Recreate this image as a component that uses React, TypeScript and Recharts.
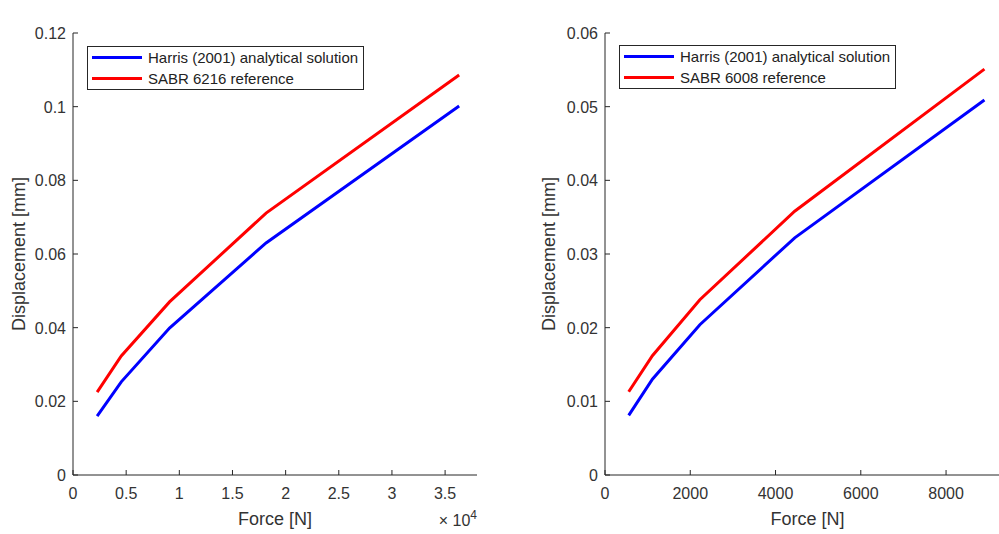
import React from "react";
import { LineChart, Line, XAxis, YAxis, Legend } from "recharts";

const FORCE_6216 = [2270, 4540, 9080, 18160, 36320];
const HARRIS_6216 = [0.016, 0.0253, 0.0399, 0.063, 0.1002];
const SABR_6216 = [0.0225, 0.0323, 0.047, 0.0711, 0.1086];

const FORCE_6008 = [556, 1112, 2225, 4450, 8900];
const HARRIS_6008 = [0.0081, 0.013, 0.0204, 0.0322, 0.0509];
const SABR_6008 = [0.0113, 0.0162, 0.0238, 0.0358, 0.0551];

const X_TICKS_6216 = [0, 5000, 10000, 15000, 20000, 25000, 30000, 35000];
const Y_TICKS_6216 = [0, 0.02, 0.04, 0.06, 0.08, 0.1, 0.12];
const X_TICKS_6008 = [0, 2000, 4000, 6000, 8000];
const Y_TICKS_6008 = [0, 0.01, 0.02, 0.03, 0.04, 0.05, 0.06];

const FONT = '"Liberation Sans", Arial, Helvetica, sans-serif';
const AX = "#262626";
const TXT = "#333333";

const build = (f: number[], h: number[], s: number[]) =>
  f.map((v, i) => ({ f: v, harris: h[i], sabr: s[i] }));

// MATLAB style: ticks point inwards, labels outside
const BottomTick = (fmt: (v: number) => string) => (p: any) => (
  <g>
    <line x1={p.x} x2={p.x} y1={p.y} y2={p.y - 5} stroke={AX} />
    <text x={p.x} y={p.y + 24} textAnchor="middle" fontSize={16} fontFamily={FONT} fill={TXT}>
      {fmt(p.payload.value)}
    </text>
  </g>
);
const TopTick = (p: any) => <line x1={p.x} x2={p.x} y1={p.y} y2={p.y + 5} stroke={AX} />;
const LeftTick = (p: any) => (
  <g>
    <line x1={p.x} x2={p.x + 5} y1={p.y} y2={p.y} stroke={AX} />
    <text x={p.x - 7} y={p.y + 6} textAnchor="end" fontSize={16} fontFamily={FONT} fill={TXT}>
      {String(p.payload.value)}
    </text>
  </g>
);
const RightTick = (p: any) => <line x1={p.x} x2={p.x - 5} y1={p.y} y2={p.y} stroke={AX} />;

const LegendBox = ({ names }: { names: string[] }) => (
  <div
    style={{
      border: `1px solid ${AX}`,
      background: "#fff",
      fontFamily: FONT,
      fontSize: 15,
      color: "#222",
      width: 275,
    }}
  >
    {names.map((n, i) => (
      <div key={n} style={{ display: "flex", alignItems: "center", height: 21 }}>
        <div style={{ width: 50, height: 3, marginLeft: 4, marginRight: 6, background: i === 0 ? "#0000ff" : "#ff0000" }} />
        <span>{n}</span>
      </div>
    ))}
  </div>
);

interface PanelProps {
  title: string;
  data: { f: number; harris: number; sabr: number }[];
  xDomain: [number, number];
  xTicks: number[];
  yDomain: [number, number];
  yTicks: number[];
  fmtX: (v: number) => string;
  exponent?: string;
  legendNames: string[];
  left: number;
  yAxisWidth: number;
  width: number;
  legendLeft: number;
  legendTop: number;
}

function Panel(p: PanelProps) {
  return (
    <div style={{ position: "absolute", left: p.left, top: 0 }}>
      <LineChart width={p.width} height={534} data={p.data} margin={{ top: 33, right: 20, bottom: 0, left: 0 }}>
        <XAxis
          xAxisId="b"
          type="number"
          dataKey="f"
          domain={p.xDomain}
          ticks={p.xTicks}
          allowDataOverflow
          height={59}
          tickSize={0}
          tickMargin={0}
          stroke={AX}
          tick={BottomTick(p.fmtX)}
          interval={0}
          label={({ viewBox }: any) => (
            <g>
              <text
                x={viewBox.x + viewBox.width / 2}
                y={viewBox.y + 50}
                textAnchor="middle"
                fontSize={18}
                fontFamily={FONT}
                fill={TXT}
              >
                Force [N]
              </text>
              {p.exponent && (
                <text
                  x={viewBox.x + viewBox.width}
                  y={viewBox.y + 51}
                  textAnchor="end"
                  fontSize={16}
                  fontFamily={FONT}
                  fill={TXT}
                >
                  × 10<tspan dy={-7} fontSize={12}>{p.exponent}</tspan>
                </text>
              )}
            </g>
          )}
        />
        <XAxis
          xAxisId="t"
          orientation="top"
          type="number"
          dataKey="f"
          domain={p.xDomain}
          ticks={p.xTicks}
          allowDataOverflow
          height={0}
          tickSize={0}
          tickMargin={0}
          stroke={AX}
          tick={TopTick}
          interval={0}
          label={({ viewBox }: any) => (
            <text
              x={viewBox.x + viewBox.width / 2}
              y={viewBox.y - 10}
              textAnchor="middle"
              fontSize={18}
              fontWeight="bold"
              fontFamily={FONT}
              fill="#000"
            >
              {p.title}
            </text>
          )}
        />
        <YAxis
          yAxisId="l"
          type="number"
          domain={p.yDomain}
          ticks={p.yTicks}
          width={p.yAxisWidth}
          tickSize={0}
          tickMargin={0}
          stroke={AX}
          tick={LeftTick}
          interval={0}
          label={({ viewBox }: any) => (
            <text
              x={25}
              y={viewBox.y + viewBox.height / 2}
              transform={`rotate(-90, 25, ${viewBox.y + viewBox.height / 2})`}
              textAnchor="middle"
              fontSize={18}
              fontFamily={FONT}
              fill={TXT}
            >
              Displacement [mm]
            </text>
          )}
        />
        <YAxis
          yAxisId="r"
          orientation="right"
          type="number"
          domain={p.yDomain}
          ticks={p.yTicks}
          width={0}
          tickSize={0}
          tickMargin={0}
          stroke={AX}
          tick={RightTick}
          interval={0}
        />
        <Legend
          layout="vertical"
          align="center"
          verticalAlign="middle"
          wrapperStyle={{ left: p.legendLeft, top: p.legendTop, width: "auto" }}
          content={() => <LegendBox names={p.legendNames} />}
        />
        <Line xAxisId="b" yAxisId="l" type="linear" dataKey="harris" stroke="#0000ff" strokeWidth={3} dot={false} isAnimationActive={false} />
        <Line xAxisId="b" yAxisId="l" type="linear" dataKey="sabr" stroke="#ff0000" strokeWidth={3} dot={false} isAnimationActive={false} />
      </LineChart>
    </div>
  );
}

export default function App() {
  return (
    <div style={{ position: "absolute", left: 0, top: 0, width: 999, height: 534, overflow: "hidden", background: "#fff" }}>
      <Panel
        title="SKF 6216"
        data={build(FORCE_6216, HARRIS_6216, SABR_6216)}
        xDomain={[0, 38000]}
        xTicks={X_TICKS_6216}
        yDomain={[0, 0.12]}
        yTicks={Y_TICKS_6216}
        fmtX={(v) => String(v / 10000)}
        exponent="4"
        legendNames={["Harris (2001) analytical solution", "SABR 6216 reference"]}
        left={0}
        yAxisWidth={73}
        width={497}
        legendLeft={87}
        legendTop={46}
      />
      <Panel
        title="SKF 6008"
        data={build(FORCE_6008, HARRIS_6008, SABR_6008)}
        xDomain={[0, 9500]}
        xTicks={X_TICKS_6008}
        yDomain={[0, 0.06]}
        yTicks={Y_TICKS_6008}
        fmtX={(v) => String(v)}
        legendNames={["Harris (2001) analytical solution", "SABR 6008 reference"]}
        left={530}
        yAxisWidth={75}
        width={500}
        legendLeft={89}
        legendTop={45}
      />
    </div>
  );
}
